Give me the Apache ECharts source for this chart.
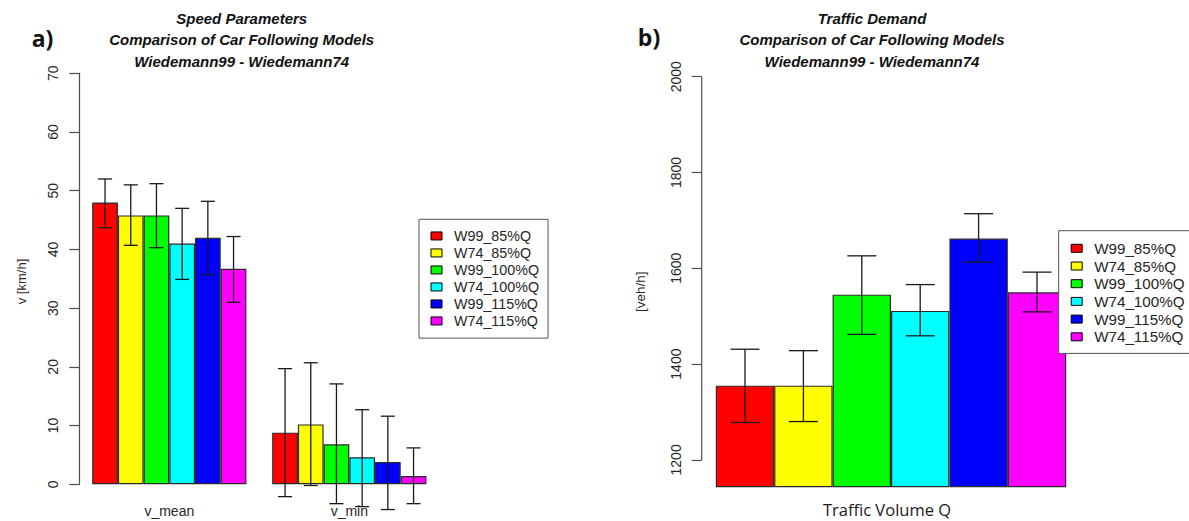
<!DOCTYPE html>
<html>
<head>
<meta charset="utf-8">
<script src="https://cdn.jsdelivr.net/npm/echarts@6/dist/echarts.min.js"></script>
<style>
  html, body { margin: 0; padding: 0; background: #ffffff; }
  #chart { width: 1189px; height: 521px; }
</style>
</head>
<body>
<div id="chart"></div>
<script>
// Scenario names and fill colours shared by both panels
const seriesNames = ['W99_85%Q', 'W74_85%Q', 'W99_100%Q', 'W74_100%Q', 'W99_115%Q', 'W74_115%Q'];
const seriesColors = ['#ff0000', '#ffff00', '#00ff00', '#00ffff', '#0000ff', '#ff00ff'];

// Panel a) speed parameters [km/h]
const speedCategories = ['v_mean', 'v_min'];
const speedMean     = [48.0, 45.8, 45.8, 41.0, 42.0, 36.7];
const speedMeanLow  = [43.7, 40.7, 40.3, 34.9, 35.7, 31.0];
const speedMeanHigh = [52.0, 51.0, 51.2, 47.0, 48.2, 42.2];
const speedMin      = [8.8, 10.2, 6.8, 4.6, 3.8, 1.4];
const speedMinLow   = [-2.1, -0.2, -3.3, -3.8, -4.3, -3.3];
const speedMinHigh  = [19.7, 20.7, 17.1, 12.7, 11.6, 6.2];

// Panel b) traffic demand [veh/h]
const demandCategories = ['Traffic Volume Q'];
const demandValues = [1355, 1355, 1545, 1511, 1662, 1550];
const demandLow    = [1278, 1280, 1462, 1459, 1613, 1509];
const demandHigh   = [1431, 1428, 1626, 1566, 1714, 1592];
const demandTicks  = [1200, 1400, 1600, 1800, 2000];

// Panel geometry
const panelA = { left: 79.3, width: 360, top: 73.3, bottomY: 484.3, barW: 25.7, cap: 14 };
const panelB = { left: 701.7, width: 378.6, top: 76.7, bottomY: 486.7, barW: 58.4, cap: 29, yMin: 1144 };

const FONT = '"Liberation Sans", Arial, sans-serif';
const AXIS_COLOR = '#4d4d4d';
const TEXT_COLOR = '#262626';

// Error bar (whisker with caps) for one scenario, offset to sit on its bar
function errorBarRenderer(idx, barW, cap) {
  const n = seriesNames.length;
  return function (params, api) {
    const cat = api.value(0);
    const lo = api.coord([cat, api.value(1)]);
    const hi = api.coord([cat, api.value(2)]);
    const x = lo[0] + (idx - (n - 1) / 2) * barW;
    const h = cap / 2;
    const style = { stroke: '#1a1a1a', lineWidth: 1.3, fill: null };
    return {
      type: 'group',
      children: [
        { type: 'line', shape: { x1: x, y1: lo[1], x2: x, y2: hi[1] }, style },
        { type: 'line', shape: { x1: x - h, y1: lo[1], x2: x + h, y2: lo[1] }, style },
        { type: 'line', shape: { x1: x - h, y1: hi[1], x2: x + h, y2: hi[1] }, style }
      ]
    };
  };
}

const series = [];

// Panel a) bars and whiskers
seriesNames.forEach((name, i) => {
  series.push({
    name, type: 'bar', xAxisIndex: 0, yAxisIndex: 0,
    data: [speedMean[i], speedMin[i]],
    barWidth: panelA.barW, barGap: '0%',
    itemStyle: { color: seriesColors[i], borderColor: '#2b2b2b', borderWidth: 1.2 },
    emphasis: { disabled: true }, animation: false
  });
});
seriesNames.forEach((name, i) => {
  series.push({
    name, type: 'custom', xAxisIndex: 0, yAxisIndex: 0, z: 5,
    data: [[0, speedMeanLow[i], speedMeanHigh[i]], [1, speedMinLow[i], speedMinHigh[i]]],
    renderItem: errorBarRenderer(i, panelA.barW, panelA.cap),
    silent: true, animation: false
  });
});

// Panel b) bars and whiskers
seriesNames.forEach((name, i) => {
  series.push({
    name, type: 'bar', xAxisIndex: 1, yAxisIndex: 1,
    data: [demandValues[i]],
    barWidth: panelB.barW, barGap: '0%',
    itemStyle: { color: seriesColors[i], borderColor: '#2b2b2b', borderWidth: 1.2 },
    emphasis: { disabled: true }, animation: false
  });
});
seriesNames.forEach((name, i) => {
  series.push({
    name, type: 'custom', xAxisIndex: 1, yAxisIndex: 1, z: 5,
    data: [[0, demandLow[i], demandHigh[i]]],
    renderItem: errorBarRenderer(i, panelB.barW, panelB.cap),
    silent: true, animation: false
  });
});

// Panel b) y axis line spanning only the labelled range
series.push({
  type: 'custom', xAxisIndex: 1, yAxisIndex: 1, z: 4, silent: true, animation: false,
  data: [[0, demandTicks[0], demandTicks[demandTicks.length - 1]]],
  renderItem: function (params, api) {
    const a = api.coord([0, api.value(1)]);
    const b = api.coord([0, api.value(2)]);
    const x = a[0] - api.size([1, 0])[0] / 2;
    return { type: 'line', shape: { x1: x, y1: a[1], x2: x, y2: b[1] },
             style: { stroke: AXIS_COLOR, lineWidth: 1.2 } };
  }
});

function legendBox(left, top, pad, fontSize, gap) {
  return {
    orient: 'vertical', left, top,
    data: seriesNames, selectedMode: false,
    icon: 'rect', itemWidth: 11, itemHeight: 8, itemGap: gap,
    itemStyle: { borderColor: '#000000', borderWidth: 1 },
    borderColor: '#555555', borderWidth: 1, backgroundColor: '#ffffff',
    padding: pad,
    textStyle: { fontFamily: FONT, fontSize, color: TEXT_COLOR, lineHeight: fontSize, padding: [0, 0, 0, 7] }
  };
}

function titleText(x, lines) {
  return {
    type: 'text', x, y: 7.5,
    style: {
      text: lines.join('\n'), align: 'center', verticalAlign: 'top',
      font: 'italic bold 15px ' + FONT, lineHeight: 21.5, fill: '#111111'
    }
  };
}

const plainNumber = v => String(v);

const option = {
  backgroundColor: '#ffffff',
  animation: false,
  grid: [
    { left: panelA.left, width: panelA.width, top: panelA.top, height: panelA.bottomY - panelA.top, containLabel: false },
    { left: panelB.left, width: panelB.width, top: panelB.top, height: panelB.bottomY - panelB.top, containLabel: false }
  ],
  xAxis: [
    {
      type: 'category', gridIndex: 0, data: speedCategories,
      axisLine: { show: false }, axisTick: { show: false },
      axisLabel: { margin: 20, fontFamily: FONT, fontSize: 14, color: TEXT_COLOR }
    },
    {
      type: 'category', gridIndex: 1, data: demandCategories,
      axisLine: { show: false }, axisTick: { show: false },
      axisLabel: { margin: 14, fontFamily: '"Open Sans", sans-serif', fontSize: 16.5, color: '#1a1a1a', padding: [0, 8, 0, 0] }
    }
  ],
  yAxis: [
    {
      type: 'value', gridIndex: 0, min: 0, max: 70, interval: 10,
      splitLine: { show: false },
      axisLine: { show: true, lineStyle: { color: AXIS_COLOR, width: 1.2 } },
      axisTick: { show: true, length: 10, lineStyle: { color: AXIS_COLOR, width: 1.2 } },
      axisLabel: { rotate: 90, margin: 19, fontFamily: FONT, fontSize: 14, color: TEXT_COLOR, formatter: plainNumber }
    },
    {
      type: 'value', gridIndex: 1, min: panelB.yMin, max: 2000,
      splitLine: { show: false },
      axisLine: { show: false },
      axisTick: { show: true, length: 10, customValues: demandTicks, lineStyle: { color: AXIS_COLOR, width: 1.2 } },
      axisLabel: { rotate: 90, margin: 19, customValues: demandTicks, fontFamily: FONT, fontSize: 14, color: TEXT_COLOR, formatter: plainNumber }
    }
  ],
  legend: [
    legendBox(419, 219.3, [9.5, 9, 10, 11.5], 14.3, 2.7),
    legendBox(1058.7, 230.7, [10, 30, 9, 12], 15.2, 2.5)
  ],
  graphic: [
    titleText(241.7, ['Speed Parameters', 'Comparison of Car Following Models', 'Wiedemann99 - Wiedemann74']),
    titleText(872, ['Traffic Demand', 'Comparison of Car Following Models', 'Wiedemann99 - Wiedemann74']),
    { type: 'text', x: 42.5, y: 38, style: { text: 'a)', align: 'center', verticalAlign: 'middle',
      font: 'bold 23px "Open Sans", sans-serif', fill: '#111111' } },
    { type: 'text', x: 649, y: 37, style: { text: 'b)', align: 'center', verticalAlign: 'middle',
      font: 'bold 23px "Open Sans", sans-serif', fill: '#111111' } },
    { type: 'text', x: 21.7, y: 281.5, rotation: Math.PI / 2,
      style: { text: 'v [km/h]', align: 'center', verticalAlign: 'middle',
      font: '13px ' + FONT, fill: '#3a2a2a' } },
    { type: 'text', x: 640, y: 291.7, rotation: Math.PI / 2,
      style: { text: '[veh/h]', align: 'center', verticalAlign: 'middle',
      font: '13.5px ' + FONT, fill: TEXT_COLOR } }
  ],
  series
};

const chart = echarts.init(document.getElementById('chart'), null, { renderer: 'svg' });
chart.setOption(option);
</script>
</body>
</html>
